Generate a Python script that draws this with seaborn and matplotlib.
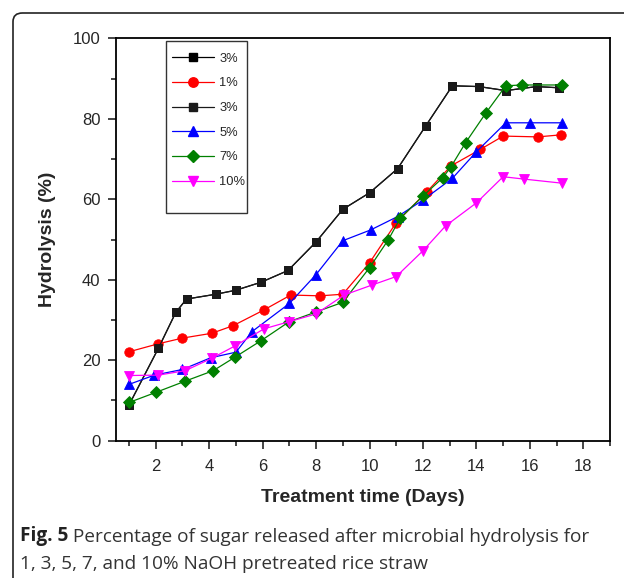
import matplotlib
matplotlib.use("Agg")
import matplotlib.pyplot as plt
import seaborn as sns
import pandas as pd
from matplotlib.patches import FancyBboxPatch, Rectangle
from matplotlib.lines import Line2D
from matplotlib.ticker import MultipleLocator

# ---- data ----
x_3a = [1, 2.1, 2.75, 3.15, 4.25, 5, 5.95, 6.95, 8, 9, 10, 11.05, 12.1, 13.1, 14.1, 15.1, 16.25, 17.1]
y_3a = [8.9, 23, 31.9, 35.2, 36.4, 37.4, 39.4, 42.3, 49.4, 57.5, 61.6, 67.6, 78.2, 88.2, 88.0, 87.0, 88.0, 87.7]
x_3b = list(x_3a)
y_3b = list(y_3a)
x_1 = [1, 2.1, 3, 4.1, 4.9, 6.05, 7.05, 8.15, 9, 10, 11, 12.15, 13.05, 14.15, 15, 16.3, 17.15]
y_1 = [22.1, 24.1, 25.5, 26.7, 28.6, 32.5, 36.2, 36.0, 36.4, 44.2, 54.2, 61.9, 68.3, 72.4, 75.7, 75.5, 76.0]
x_5 = [1, 1.95, 3, 4.05, 5, 5.6, 7, 8, 9, 10.05, 11.05, 12, 13.1, 14, 15.1, 16, 17.2]
y_5 = [14.0, 16.3, 17.7, 20.6, 22.0, 27.1, 34.1, 41.3, 49.7, 52.4, 55.7, 59.8, 65.2, 71.8, 79.0, 79.0, 79.0]
x_7 = [1, 2, 3.1, 4.15, 4.95, 5.95, 7, 8, 9, 10, 10.7, 11.15, 12, 12.75, 13.05, 13.6, 14.35, 15.1, 15.7, 17.2]
y_7 = [9.5, 12.0, 14.8, 17.4, 20.7, 24.9, 29.6, 32.0, 34.4, 43.0, 49.9, 55.3, 60.8, 65.4, 68.1, 74.1, 81.4, 88.2, 88.4, 88.4]
x_10 = [1, 2.1, 3.1, 4.1, 4.95, 6.05, 7, 8, 9.05, 10.1, 11, 12, 12.85, 14, 15, 15.8, 17.2]
y_10 = [16.2, 16.3, 17.4, 20.5, 23.5, 27.8, 29.6, 31.5, 36.2, 38.7, 40.8, 47.2, 53.4, 59.1, 65.6, 65.0, 64.0]

labels = ["3%", "1%", "3%", "5%", "7%", "10%"]
x_ticks = [2, 4, 6, 8, 10, 12, 14, 16, 18]
y_ticks = [0, 20, 40, 60, 80, 100]

caption_bold = "Fig. 5"
caption_line1 = " Percentage of sugar released after microbial hydrolysis for"
caption_line2 = "1, 3, 5, 7, and 10% NaOH pretreated rice straw"

series = [
    (x_3a, y_3a, "#000000", "s", 6.0),
    (x_1, y_1, "#FF0000", "o", 6.8),
    (x_3b, y_3b, "#1a1a1a", "s", 6.0),
    (x_5, y_5, "#0000FF", "^", 7.5),
    (x_7, y_7, "#008000", "D", 6.0),
    (x_10, y_10, "#FF00FF", "v", 7.5),
]

sns.set_style("ticks")
plt.rcParams["font.family"] = ["Liberation Sans", "DejaVu Sans"]

fig = plt.figure(figsize=(6.24, 5.78), dpi=100)
ax = fig.add_axes([115.7 / 624, 1 - 440.7 / 578, (610 - 115.7) / 624, (440.7 - 38.3) / 578])

for (xs, ys, col, mk, ms), lab in zip(series, labels):
    df = pd.DataFrame({"x": xs, "y": ys})
    sns.lineplot(data=df, x="x", y="y", ax=ax, color=col, marker=mk, markersize=ms,
                 markeredgecolor=col, markeredgewidth=0.6, linewidth=0.9,
                 estimator=None, sort=False, label=lab, legend=False)

ax.set_xlim(0.5, 19)
ax.set_ylim(0, 100)
ax.set_xticks(x_ticks)
ax.set_yticks(y_ticks)
ax.xaxis.set_minor_locator(MultipleLocator(1))
ax.yaxis.set_minor_locator(MultipleLocator(10))
ax.tick_params(axis="both", which="major", direction="out", length=6, width=1.2,
               labelsize=12, top=False, right=False)
ax.tick_params(axis="x", which="major", pad=7)
ax.tick_params(axis="y", which="major", pad=5)
ax.tick_params(axis="both", which="minor", direction="out", length=3.3, width=1.2,
               top=False, right=False)
for s in ax.spines.values():
    s.set_visible(True)
    s.set_linewidth(1.3)
    s.set_color("black")

ax.set_xlabel("Treatment time (Days)", fontsize=14, fontweight="bold", labelpad=11)
ax.set_ylabel("Hydrolysis (%)", fontsize=14, fontweight="bold", labelpad=12)

# legend (frame drawn separately to match the reference's asymmetric padding)
handles = []
for (xs, ys, col, mk, ms), lab in zip(series, labels):
    handles.append(Line2D([], [], color=col, marker=mk, markersize=ms,
                          markeredgecolor=col, linewidth=0.9, label=lab))
leg = ax.legend(handles=handles, loc="upper left", bbox_to_anchor=(0.1133, 0.9645),
                borderaxespad=0, borderpad=0, fontsize=9.3, handlelength=3.3,
                handletextpad=0.4, labelspacing=0.98, frameon=False)
ax.add_patch(Rectangle((0.1012, 0.5651), 0.2656 - 0.1012, 0.9933 - 0.5651,
                       transform=ax.transAxes, fill=True, facecolor="white",
                       edgecolor="#333333", linewidth=1.0, zorder=4))
leg.set_zorder(5)

# outer rounded border
box = FancyBboxPatch((13 / 624, -0.05), 1.0, 1 - 13 / 578 + 0.05,
                     boxstyle="round,pad=0,rounding_size=0.015",
                     transform=fig.transFigure, fill=False, edgecolor="#222222",
                     linewidth=1.2, clip_on=False)
fig.patches.append(box)

cap_font = ["Open Sans", "DejaVu Sans"]
t_bold = fig.text(20 / 624, 1 - 541 / 578, caption_bold, fontsize=13.7, family=cap_font,
                  fontweight="bold", color="#222222")
ax.annotate(caption_line1, xy=(1, 0), xycoords=t_bold, fontsize=13.7, family=cap_font,
            color="#333333", va="bottom", ha="left", annotation_clip=False)
fig.text(20 / 624, 1 - 569 / 578, caption_line2, fontsize=13.7, family=cap_font, color="#333333")
fig.savefig("out.png", dpi=100)
